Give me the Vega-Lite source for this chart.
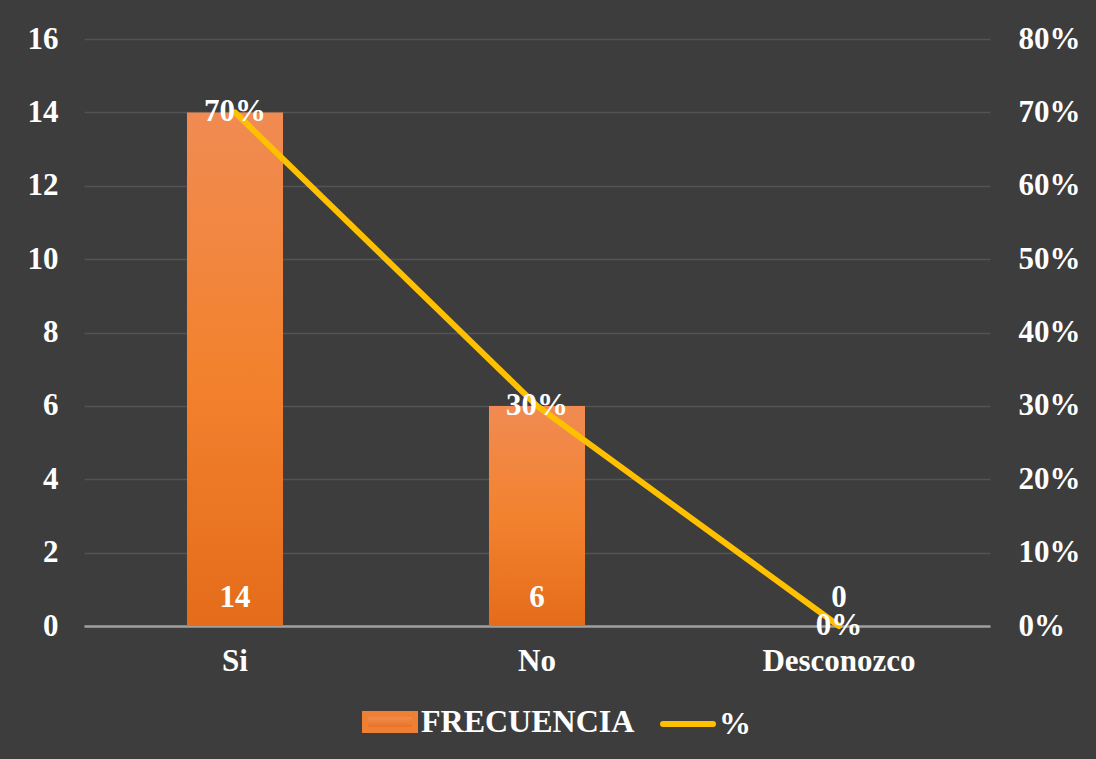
{
  "$schema": "https://vega.github.io/schema/vega-lite/v6.json",
  "width": 906,
  "height": 587,
  "autosize": {"type": "none"},
  "padding": {"left": 84, "top": 39, "right": 106, "bottom": 133},
  "background": "#3d3d3d",
  "config": {
    "view": {"stroke": null},
    "font": "Liberation Serif",
    "axis": {"labelFont": "Liberation Serif", "labelFontWeight": "bold", "labelFontSize": 31, "labelColor": "#ffffff", "ticks": false, "title": null},
    "legend": {"labelFont": "Liberation Serif", "labelFontWeight": "bold", "labelFontSize": 32, "labelColor": "#ffffff"}
  },
  "data": {
    "values": [
      {"categoria": "Si", "frecuencia": 14, "porcentaje": 0.7},
      {"categoria": "No", "frecuencia": 6, "porcentaje": 0.3},
      {"categoria": "Desconozco", "frecuencia": 0, "porcentaje": 0.0}
    ]
  },
  "encoding": {
    "x": {
      "field": "categoria",
      "type": "nominal",
      "sort": null,
      "scale": {"paddingInner": 0, "paddingOuter": 0},
      "axis": {"labelAngle": 0, "labelPadding": 20, "domainColor": "#a0a0a0", "domainWidth": 2.5, "grid": false}
    }
  },
  "layer": [
    {
      "layer": [
        {
          "mark": {
            "type": "bar",
            "width": {"band": 0.318},
            "fill": {
              "gradient": "linear", "x1": 0, "y1": 0, "x2": 0, "y2": 1,
              "stops": [
                {"offset": 0, "color": "#F08B52"},
                {"offset": 0.5, "color": "#F3822F"},
                {"offset": 1, "color": "#E46C1A"}
              ]
            }
          },
          "encoding": {
            "y": {
              "field": "frecuencia",
              "type": "quantitative",
              "scale": {"domain": [0, 16]},
              "axis": {"values": [0, 2, 4, 6, 8, 10, 12, 14, 16], "domain": false, "labelPadding": 26, "gridColor": "#ffffff", "gridOpacity": 0.12, "gridWidth": 1.5, "orient": "left"}
            }
          }
        },
        {
          "mark": {"type": "text", "color": "#ffffff", "fontSize": 31, "fontWeight": "bold", "font": "Liberation Serif", "baseline": "middle", "dy": -28},
          "encoding": {
            "y": {"datum": 0, "type": "quantitative"},
            "text": {"field": "frecuencia", "type": "quantitative"}
          }
        }
      ]
    },
    {
      "layer": [
        {
          "mark": {"type": "line", "strokeWidth": 6, "strokeCap": "round", "strokeJoin": "round"},
          "encoding": {
            "y": {
              "field": "porcentaje",
              "type": "quantitative",
              "scale": {"domain": [0, 0.8]},
              "axis": {"orient": "right", "format": ".0%", "values": [0, 0.1, 0.2, 0.3, 0.4, 0.5, 0.6, 0.7, 0.8], "domain": false, "grid": false, "labelPadding": 28}
            },
            "color": {
              "datum": "%",
              "type": "nominal",
              "scale": {"domain": ["FRECUENCIA", "%"], "range": ["#EF7F33", "#FFC000"]},
              "legend": {
                "title": null,
                "orient": "none",
                "direction": "horizontal",
                "legendX": 278,
                "legendY": 655,
                "symbolSize": 2500,
                "symbolType": "stroke",
                "symbolStrokeWidth": 6,
                "labelOffset": 3,
                "columnPadding": 16,
                "labelLimit": 400,
                "encode": {
                  "symbols": {
                    "update": {
                      "shape": {"signal": "datum.value === 'FRECUENCIA' ? 'M-1,-0.32H1V0.32H-1Z' : 'M-1,0H1'"},
                      "fill": [
                        {"test": "datum.value === 'FRECUENCIA'", "value": {"gradient": "linear", "x1": 0, "y1": 0, "x2": 0, "y2": 1, "stops": [{"offset": 0, "color": "#F4935A"}, {"offset": 1, "color": "#E46C1A"}]}},
                        {"value": "transparent"}
                      ],
                      "stroke": [
                        {"test": "datum.value === 'FRECUENCIA'", "value": "transparent"},
                        {"value": "#FFC000"}
                      ],
                      "strokeWidth": {"value": 6},
                      "strokeCap": {"value": "round"}
                    }
                  }
                }
              }
            }
          }
        },
        {
          "mark": {"type": "text", "color": "#ffffff", "fontSize": 31, "fontWeight": "bold", "font": "Liberation Serif", "baseline": "middle"},
          "encoding": {
            "y": {"field": "porcentaje", "type": "quantitative"},
            "text": {"field": "porcentaje", "type": "quantitative", "format": ".0%"}
          }
        }
      ]
    }
  ],
  "resolve": {"scale": {"y": "independent"}}
}
